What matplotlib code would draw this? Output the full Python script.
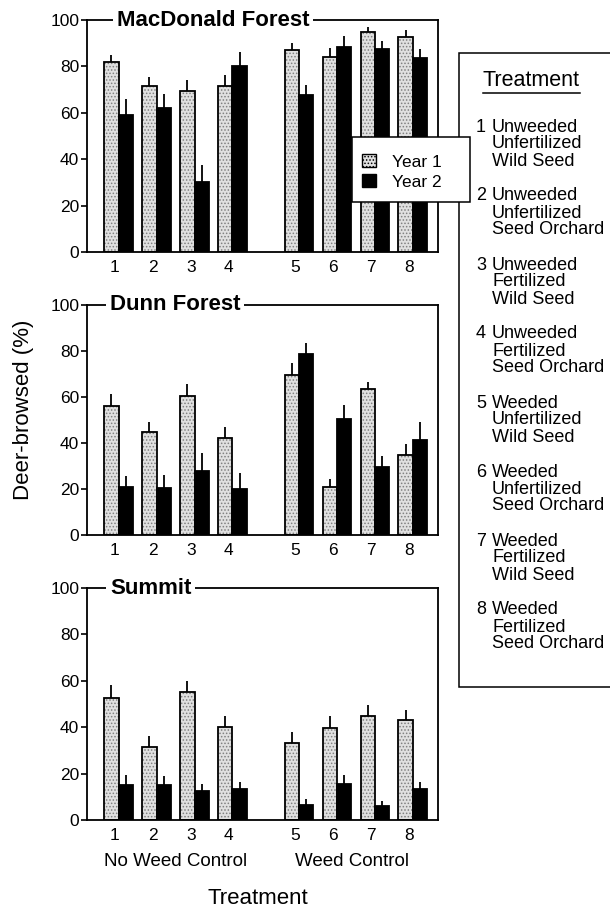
import numpy as np
import matplotlib.pyplot as plt
import matplotlib.transforms as mtransforms
from matplotlib.patches import Patch, Rectangle
from matplotlib.lines import Line2D

plt.rcParams['font.family'] = ['Liberation Sans', 'DejaVu Sans']
plt.rcParams['hatch.linewidth'] = 0.7

# values (% deer-browsed, upper error bar)
treatments = ['1', '2', '3', '4', '5', '6', '7', '8']
mac_y1 = [82, 71.5, 69.5, 71.5, 87, 84, 95, 92.5]
mac_y1_err = [3, 4, 4.5, 5, 3, 4, 2, 3]
mac_y2 = [59, 62, 30, 80, 67.5, 88.5, 87.5, 83.5]
mac_y2_err = [7, 6, 7.5, 6, 4.5, 4.5, 3.5, 4]
dunn_y1 = [56, 45, 60.5, 42, 69.5, 21, 63.5, 35]
dunn_y1_err = [5.5, 4, 5, 5, 5.5, 3.5, 3, 4.5]
dunn_y2 = [21, 20.5, 28, 20, 78.5, 50.5, 29.5, 41.5]
dunn_y2_err = [4.5, 5.5, 7.5, 7, 5, 6, 5, 7.5]
summit_y1 = [52.5, 31.5, 55, 40, 33, 39.5, 45, 43]
summit_y1_err = [5.5, 4.5, 5, 5, 5, 5.5, 4.5, 4.5]
summit_y2 = [15, 15, 12.5, 13.5, 6.5, 15.5, 6, 13.5]
summit_y2_err = [4.5, 4, 3, 3, 2.5, 4, 2, 3]

treatment_names = [
    ['Unweeded', 'Unfertilized', 'Wild Seed'],
    ['Unweeded', 'Unfertilized', 'Seed Orchard'],
    ['Unweeded', 'Fertilized', 'Wild Seed'],
    ['Unweeded', 'Fertilized', 'Seed Orchard'],
    ['Weeded', 'Unfertilized', 'Wild Seed'],
    ['Weeded', 'Unfertilized', 'Seed Orchard'],
    ['Weeded', 'Fertilized', 'Wild Seed'],
    ['Weeded', 'Fertilized', 'Seed Orchard'],
]

W, H = 610, 907
fig = plt.figure(figsize=(W / 100, H / 100), dpi=100)


def fx(x):
    return x / W


def fy(y):
    return 1 - y / H


pos = np.array([1, 2, 3, 4, 5.75, 6.75, 7.75, 8.75])
w = 0.38
stipple = '#e0e0e0'

# (title, year1, err1, year2, err2, top px, bottom px, title x px)
panels = [
    ('MacDonald Forest', mac_y1, mac_y1_err, mac_y2, mac_y2_err, 20, 252, 117),
    ('Dunn Forest', dunn_y1, dunn_y1_err, dunn_y2, dunn_y2_err, 305, 535, 110),
    ('Summit', summit_y1, summit_y1_err, summit_y2, summit_y2_err, 588, 820, 110),
]

left_px, right_px = 87, 438
axes = []
for title, y1, e1, y2, e2, top, bot, tx in panels:
    ax = fig.add_axes([fx(left_px), fy(bot), (right_px - left_px) / W, (bot - top) / H])
    axes.append(ax)
    ax.bar(pos - w / 2, y1, w, color=stipple, edgecolor='#808080', hatch='.....',
           linewidth=0, zorder=2)
    ax.bar(pos - w / 2, y1, w, fill=False, edgecolor='k', linewidth=1.3, zorder=3)
    ax.bar(pos + w / 2, y2, w, color='k', edgecolor='k', linewidth=1.3, zorder=3)
    ax.errorbar(pos - w / 2, y1, yerr=[np.zeros(len(y1)), e1], fmt='none',
                ecolor='k', elinewidth=1.3, capsize=0, zorder=4)
    ax.errorbar(pos + w / 2, y2, yerr=[np.zeros(len(y2)), e2], fmt='none',
                ecolor='k', elinewidth=1.3, capsize=0, zorder=4)

    ax.set_ylim(0, 100)
    ax.set_xlim(0.17, 9.41)
    ax.set_yticks(range(0, 101, 20))
    ax.set_xticks(pos - 0.1)
    ax.set_xticklabels(treatments)
    ax.tick_params(axis='x', length=0, pad=6, labelsize=12.5)
    ax.tick_params(axis='y', direction='out', length=4, width=1.2, pad=1.5, labelsize=12.5)
    for sp in ax.spines.values():
        sp.set_linewidth(1.3)
    ax.text((tx - left_px) / (right_px - left_px), 1.0, title, transform=ax.transAxes,
            ha='left', va='center', fontsize=16, fontweight='bold', zorder=6,
            bbox=dict(facecolor='white', edgecolor='none', pad=2.5), clip_on=False)

# group labels under the bottom panel
ax3 = axes[-1]
blend = mtransforms.blended_transform_factory(ax3.transData, fig.transFigure)
ax3.text(pos[:4].mean(), fy(862), 'No Weed Control', transform=blend,
         ha='center', va='center', fontsize=13.5)
ax3.text(pos[4:].mean() - 0.1, fy(862), 'Weed Control', transform=blend,
         ha='center', va='center', fontsize=13.5)

fig.text(fx(258), fy(898), 'Treatment', ha='center', va='center', fontsize=16)
fig.text(fx(23), fy(410), 'Deer-browsed (%)', rotation=90, ha='center', va='center',
         fontsize=16)

# treatment key box
fig.add_artist(Rectangle((fx(459), fy(687)), fx(700) - fx(459), (687 - 53) / H,
                         transform=fig.transFigure, facecolor='white', edgecolor='k',
                         linewidth=1.1, zorder=5))
header = fig.text(fx(531), fy(80), 'Treatment', ha='center', va='center', fontsize=15.5,
                  zorder=6)
for k, lines in enumerate(treatment_names):
    y0 = 127 + 69 * k
    fig.text(fx(476), fy(y0), treatments[k], ha='left', va='center', fontsize=13, zorder=6)
    for j, line in enumerate(lines):
        fig.text(fx(492), fy(y0 + 17 * j), line, ha='left', va='center', fontsize=13,
                 zorder=6)

renderer = fig.canvas.get_renderer()
bb = header.get_window_extent(renderer)
fig.add_artist(Line2D([bb.x0 / W, bb.x1 / W], [fy(93), fy(93)], transform=fig.transFigure,
                      color='k', linewidth=1.1, zorder=6))

# year legend box, drawn over the top panel and the key box
fig.add_artist(Rectangle((fx(352), fy(202)), fx(470) - fx(352), (202 - 137) / H,
                         transform=fig.transFigure, facecolor='white', edgecolor='k',
                         linewidth=1.1, zorder=10))
handles = [Patch(facecolor=stipple, edgecolor='k', hatch='.....', linewidth=1),
           Patch(facecolor='k', edgecolor='k')]
leg = fig.legend(handles, ['Year 1', 'Year 2'], loc='center left',
                 bbox_to_anchor=(fx(362), fy(172)), frameon=False, fontsize=12.5,
                 handlelength=0.8, handleheight=0.8, handletextpad=0.9,
                 labelspacing=0.25, borderpad=0, borderaxespad=0)
leg.set_zorder(11)

fig.savefig('out.png', dpi=100)
